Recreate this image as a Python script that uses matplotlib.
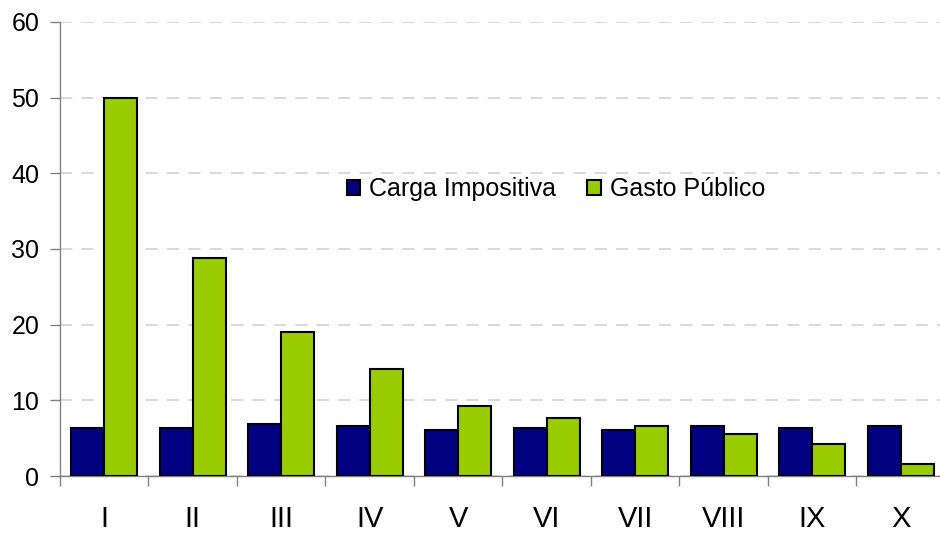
import numpy as np
import matplotlib
matplotlib.use("Agg")
import matplotlib.pyplot as plt

categorias = ["I", "II", "III", "IV", "V", "VI", "VII", "VIII", "IX", "X"]
carga_impositiva = [6.3, 6.3, 6.9, 6.6, 6.1, 6.3, 6.1, 6.6, 6.3, 6.6]
gasto_publico = [50.0, 28.8, 19.0, 14.2, 9.2, 7.6, 6.6, 5.5, 4.2, 1.6]
y_ticks = [0, 10, 20, 30, 40, 50, 60]

plt.rcParams['font.family'] = ['Liberation Sans', 'DejaVu Sans']

fig = plt.figure(figsize=(9.4, 5.33), dpi=100)
ax = fig.add_axes([60 / 940, 1 - 476 / 533, 880 / 940, (476 - 22) / 533])

x = np.arange(len(categorias))
w = 0.375
ax.bar(x - w / 2, carga_impositiva, w, color='#000080', edgecolor='black',
       linewidth=1.5, label='Carga Impositiva', zorder=3)
ax.bar(x + w / 2, gasto_publico, w, color='#99CC00', edgecolor='black',
       linewidth=1.5, label='Gasto Público', zorder=3)

ax.set_xlim(-0.5, -0.5 + 880 / 88.5)
ax.set_ylim(0, 60)
ax.set_yticks(y_ticks)
ax.yaxis.grid(True, color='#D0D0D0', linestyle=(0, (8, 6)), linewidth=1.1, zorder=0)
ax.tick_params(axis='y', direction='out', length=7, width=1, color='#808080',
               labelsize=18, pad=8)

# labels at the centres, tick marks between categories
ax.set_xticks(x)
ax.set_xticklabels(categorias)
ax.set_xticks(np.arange(-0.5, len(categorias) - 1), minor=True)
ax.tick_params(axis='x', which='major', length=0, labelsize=21, pad=21)
ax.tick_params(axis='x', which='minor', direction='out', length=7, width=1,
               color='#808080')

for s in ['top', 'right']:
    ax.spines[s].set_visible(False)
for s in ['left', 'bottom']:
    ax.spines[s].set_color('#808080')
    ax.spines[s].set_linewidth(1.0)

leg = ax.legend(loc='center', bbox_to_anchor=(556 / 940, 1 - 189 / 533),
                bbox_transform=fig.transFigure, ncol=2, frameon=False,
                fontsize=18, handlelength=0.55, handleheight=0.55,
                handletextpad=0.35, columnspacing=1.25)

fig.savefig("out.png", dpi=100)
